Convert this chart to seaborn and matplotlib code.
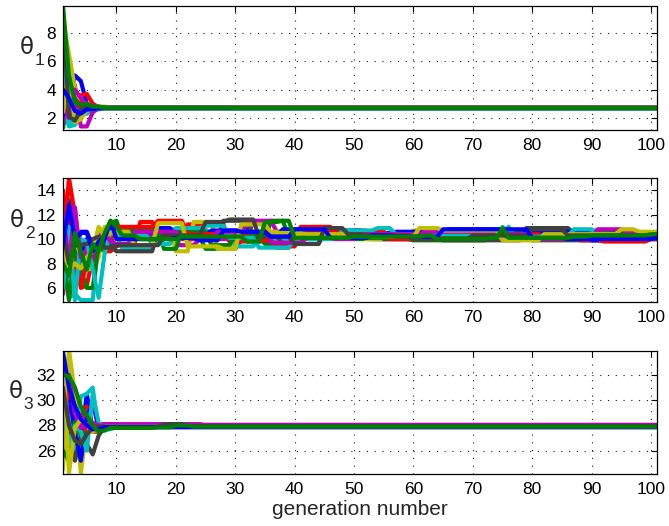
import numpy as np
import pandas as pd
import matplotlib
matplotlib.use("Agg")
import matplotlib.pyplot as plt
import seaborn as sns

# ---------------------------------------------------------------------------
# Parameter estimates per generation for 16 independent runs.
# Each run is stored as change points (generation, value); the value is held
# until the next change point.
# ---------------------------------------------------------------------------
generations = np.arange(1, 102)

theta1_runs = [
    [(1, 3.5), (2, 2.6), (3, 5.0), (4, 4.6), (5, 3.0), (6, 2.8), (8, 2.72)],
    [(1, 1.3), (2, 3.6), (3, 3.0), (4, 2.8), (7, 2.7)],
    [(1, 4.4), (2, 6.0), (3, 3.3), (4, 3.6), (5, 3.7), (6, 3.0), (7, 2.75), (9, 2.7)],
    [(1, 2.9), (2, 1.4), (3, 1.5), (4, 2.2), (5, 2.3), (6, 2.6), (8, 2.68)],
    [(1, 1.6), (2, 4.8), (3, 4.3), (4, 1.4), (5, 1.4), (6, 2.4), (7, 2.7)],
    [(1, 8.8), (2, 6.5), (3, 4.1), (4, 3.2), (5, 3.0), (6, 2.8), (9, 2.72)],
    [(1, 6.5), (2, 3.2), (3, 2.2), (4, 2.5), (5, 2.8), (7, 2.7)],
    [(1, 2.2), (2, 3.1), (3, 2.0), (4, 2.4), (5, 2.65), (8, 2.7)],
    [(1, 7.2), (2, 1.9), (3, 3.3), (4, 2.9), (6, 2.75), (8, 2.7)],
    [(1, 5.0), (2, 2.4), (3, 2.9), (4, 3.1), (5, 2.8), (7, 2.7)],
    [(1, 7.8), (2, 1.6), (3, 1.7), (4, 2.0), (5, 2.5), (6, 2.68)],
    [(1, 3.0), (2, 2.0), (3, 4.0), (4, 3.4), (5, 2.9), (7, 2.72)],
    [(1, 2.4), (2, 5.4), (3, 1.7), (4, 1.9), (5, 2.6), (7, 2.7)],
    [(1, 9.6), (2, 2.1), (3, 1.8), (4, 2.6), (5, 2.7)],
    [(1, 4.0), (2, 3.4), (3, 2.5), (4, 2.3), (5, 2.6), (7, 2.7)],
    [(1, 9.9), (2, 5.0), (3, 3.1), (4, 2.9), (5, 3.0), (6, 2.8), (8, 2.72), (30, 2.7)],
]

theta2_runs = [
    [(1, 8.0), (2, 13.2), (3, 9.0), (4, 10.6), (6, 9.4), (7, 9.5), (8, 9.2), (9, 9.4), (10, 11.2),
     (11, 10.6), (16, 10.4), (22, 10.2), (31, 10.8), (33, 10.5), (40, 10.6), (48, 10.3), (52, 10.2),
     (55, 10.5), (58, 10.1), (66, 10.7), (75, 10.3), (77, 10.7), (86, 10.2), (88, 10.1), (95, 10.0)],
    [(1, 11.5), (2, 5.5), (3, 6.5), (4, 8.2), (5, 9.7), (6, 9.4), (7, 10.0), (8, 9.8), (9, 11.3),
     (10, 11.5), (11, 10.0), (18, 10.2), (25, 9.2), (31, 9.9), (36, 11.5), (39, 10.2), (50, 10.0),
     (60, 9.9), (73, 10.0), (80, 9.9), (95, 10.2), (98, 10.0)],
    [(1, 9.0), (2, 15.0), (3, 12.0), (4, 6.0), (5, 6.2), (6, 8.5), (7, 10.5), (8, 9.0), (10, 9.4),
     (11, 9.6), (14, 11.4), (17, 10.4), (22, 11.2), (29, 9.8), (38, 9.4), (41, 11.0), (47, 10.4),
     (60, 10.3), (70, 10.0), (80, 10.2), (88, 9.9), (94, 10.1)],
    [(1, 13.5), (2, 5.2), (3, 5.5), (4, 5.0), (7, 10.0), (8, 9.3), (9, 10.5), (10, 10.4), (11, 9.2),
     (17, 10.8), (26, 10.3), (30, 9.4), (34, 10.0), (41, 10.5), (51, 10.6), (56, 10.2), (60, 10.3),
     (75, 11.0), (76, 10.4), (88, 10.7), (92, 10.3)],
    [(1, 5.5), (2, 12.5), (3, 12.6), (4, 7.0), (5, 9.5), (6, 8.0), (7, 10.7), (8, 9.9), (9, 10.0),
     (10, 10.8), (14, 10.2), (20, 9.5), (24, 10.0), (33, 11.5), (37, 10.6), (45, 10.3), (50, 10.7),
     (53, 10.0), (60, 10.5), (64, 10.2), (75, 10.0), (89, 10.6), (96, 10.4), (101, 10.6)],
    [(1, 6.5), (2, 10.0), (3, 9.5), (4, 7.5), (6, 7.6), (7, 8.5), (8, 11.0), (9, 10.2), (10, 10.1),
     (11, 10.8), (20, 9.0), (23, 11.4), (27, 9.2), (30, 10.6), (40, 10.2), (47, 10.4), (52, 10.0),
     (60, 10.7), (64, 10.5), (80, 10.2), (85, 10.4), (95, 10.7), (98, 10.2)],
    [(1, 10.0), (2, 9.0), (3, 9.6), (5, 9.7), (8, 9.5), (10, 9.0), (17, 10.6), (25, 10.0),
     (28, 11.5), (33, 10.2), (38, 9.6), (45, 10.4), (49, 10.5), (55, 10.0), (65, 9.9), (79, 10.9),
     (87, 10.5)],
    [(1, 7.0), (2, 12.0), (3, 6.0), (4, 9.0), (5, 10.0), (7, 9.8), (8, 9.5), (9, 10.8), (10, 10.5),
     (12, 10.9), (20, 10.4), (26, 10.7), (32, 10.3), (38, 10.8), (44, 10.7), (52, 10.3), (57, 10.6),
     (66, 10.8), (77, 10.6), (90, 9.9), (96, 10.3)],
    [(1, 8.5), (2, 5.0), (3, 9.0), (4, 7.5), (5, 6.0), (7, 9.5), (8, 9.0), (9, 10.0), (10, 10.7),
     (18, 9.2), (21, 10.6), (26, 9.5), (30, 10.3), (35, 9.6), (42, 10.5), (50, 10.1), (58, 10.3),
     (66, 10.2), (74, 10.6), (79, 10.0), (91, 10.5), (94, 10.3), (101, 10.4)],
    [(1, 14.0), (2, 10.5), (3, 7.0), (4, 6.2), (5, 8.0), (6, 10.0), (7, 9.2), (8, 10.5), (9, 10.0),
     (10, 11.0), (17, 11.5), (22, 10.4), (28, 10.2), (33, 9.9), (37, 9.3), (40, 10.6), (56, 10.0),
     (65, 10.4), (82, 10.0), (92, 9.8), (100, 10.0)],
    [(1, 6.0), (2, 11.0), (3, 5.0), (4, 10.0), (5, 9.8), (6, 7.5), (7, 5.2), (8, 8.8), (9, 10.6),
     (10, 10.3), (16, 9.6), (20, 10.9), (25, 11.1), (29, 10.1), (34, 9.3), (40, 10.0), (48, 10.7),
     (54, 10.9), (57, 10.4), (73, 10.2), (76, 11.0), (77, 10.2), (87, 10.8), (91, 10.1)],
    [(1, 12.0), (2, 8.0), (3, 12.5), (4, 8.5), (5, 8.2), (6, 9.0), (7, 10.2), (8, 10.5), (9, 9.8),
     (10, 9.6), (13, 10.6), (21, 10.0), (27, 10.6), (32, 11.3), (36, 9.7), (42, 10.1), (47, 10.0),
     (51, 10.4), (62, 10.6), (73, 10.4), (80, 10.0), (91, 10.8), (96, 10.5)],
    [(1, 9.5), (2, 7.5), (3, 8.0), (4, 7.6), (5, 8.5), (6, 9.0), (7, 11.0), (8, 10.2), (9, 10.5),
     (10, 10.6), (13, 9.5), (17, 11.3), (22, 9.4), (28, 9.2), (31, 11.2), (36, 10.5), (42, 10.4),
     (50, 10.2), (61, 10.9), (65, 10.7), (75, 9.9), (82, 10.4), (95, 10.8), (98, 10.6)],
    [(1, 10.5), (2, 8.0), (3, 9.5), (5, 9.6), (6, 10.0), (7, 10.2), (8, 9.3), (10, 9.5), (18, 10.3),
     (25, 11.4), (29, 11.6), (34, 10.2), (40, 9.6), (45, 10.9), (49, 10.4), (52, 10.3), (60, 10.0),
     (70, 10.3), (80, 10.8), (86, 10.3), (101, 10.4)],
    [(1, 9.5), (2, 12.8), (3, 10.0), (4, 10.5), (6, 9.0), (7, 9.8), (8, 10.0), (9, 11.5), (10, 10.0),
     (20, 10.1), (24, 9.9), (28, 10.7), (31, 10.6), (36, 10.2), (40, 10.8), (46, 10.1), (53, 10.3),
     (57, 10.2), (65, 10.8), (80, 10.1), (86, 10.0), (101, 10.1)],
    [(1, 8.0), (2, 7.0), (3, 10.5), (4, 9.0), (5, 7.5), (6, 9.6), (7, 9.0), (8, 10.5), (9, 11.5),
     (10, 11.0), (11, 10.3), (14, 10.0), (21, 10.2), (32, 9.8), (35, 11.4), (38, 11.5), (40, 10.1),
     (50, 10.2), (62, 10.3), (64, 10.0), (73, 10.1), (75, 10.9), (76, 10.1), (87, 10.2), (90, 10.3),
     (100, 10.4)],
]

theta3_runs = [
    [(1, 25.5), (2, 33.5), (3, 25.8), (4, 26.5), (5, 30.5), (6, 27.6), (7, 27.9), (9, 28.1), (11, 27.9)],
    [(1, 32.0), (2, 31.8), (3, 29.5), (4, 29.0), (5, 28.7), (6, 27.6), (7, 27.7), (9, 27.9), (18, 28.0), (22, 27.95)],
    [(1, 32.5), (2, 31.0), (4, 29.0), (5, 29.5), (6, 27.5), (8, 27.8), (10, 27.9)],
    [(1, 30.0), (2, 28.5), (3, 26.0), (4, 30.3), (5, 30.5), (6, 31.0), (7, 27.4), (8, 27.7), (10, 27.9)],
    [(1, 27.0), (2, 29.5), (3, 28.5), (4, 28.0), (5, 29.2), (6, 28.0), (7, 28.1), (10, 28.05)],
    [(1, 24.5), (2, 34.0), (3, 30.5), (4, 24.2), (5, 28.0), (6, 27.5), (7, 28.0), (9, 27.9)],
    [(1, 31.5), (2, 27.0), (3, 25.2), (4, 27.2), (5, 26.5), (6, 25.7), (7, 27.2), (8, 27.9)],
    [(1, 33.5), (2, 30.5), (3, 27.5), (4, 25.2), (5, 28.5), (6, 29.8), (7, 27.8), (9, 28.0), (15, 27.9)],
    [(1, 26.0), (2, 25.2), (3, 28.3), (4, 27.2), (5, 27.8), (7, 27.6), (8, 27.9)],
    [(1, 28.5), (2, 31.0), (3, 29.5), (4, 28.5), (5, 27.5), (6, 27.8), (8, 28.0), (20, 27.9)],
    [(1, 29.0), (2, 26.5), (3, 28.0), (4, 27.5), (5, 26.0), (6, 30.5), (7, 28.2), (8, 27.6), (9, 27.8), (12, 27.95)],
    [(1, 30.5), (2, 32.0), (3, 29.0), (4, 27.8), (5, 28.0), (6, 28.2), (7, 28.0), (9, 28.1), (25, 28.0)],
    [(1, 33.9), (2, 24.2), (3, 27.8), (4, 28.5), (5, 28.0), (6, 27.6), (8, 27.9)],
    [(1, 31.0), (2, 28.0), (3, 26.8), (4, 26.5), (5, 27.3), (6, 27.8), (7, 27.9), (18, 28.1), (22, 27.95)],
    [(1, 33.8), (2, 31.0), (3, 29.5), (4, 28.5), (5, 28.0), (6, 27.7), (8, 27.85)],
    [(1, 32.0), (2, 31.9), (3, 31.0), (4, 29.5), (5, 28.8), (6, 28.0), (7, 27.5), (8, 27.6), (9, 27.8),
     (17, 27.85), (20, 28.0), (23, 27.9)],
]

panel_runs = [theta1_runs, theta2_runs, theta3_runs]
subscripts = ["1", "2", "3"]
y_limits = [(1.15, 9.9), (4.85, 15.0), (24.15, 33.9)]
y_ticks = [[2, 4, 6, 8], [6, 8, 10, 12, 14], [26, 28, 30, 32]]
x_ticks = [10, 20, 30, 40, 50, 60, 70, 80, 90, 100]
x_label = "generation number"

# MATLAB default line colour order
line_colors = ["#0000ff", "#008000", "#ff0000", "#00bfbf", "#bf00bf", "#bfbf00", "#404040"]


def expand(runs):
    """Turn (generation, value) change points into one value per generation."""
    values = np.empty(len(generations))
    stops = [g for g, _ in runs[1:]] + [generations[-1] + 1]
    for (start, value), stop in zip(runs, stops):
        values[start - 1:stop - 1] = value
    return values


def to_frame(runs):
    parts = []
    for i, r in enumerate(runs):
        parts.append(pd.DataFrame({"generation": generations,
                                   "value": expand(r),
                                   "run": i}))
    return pd.concat(parts, ignore_index=True)


sns.set_style("white")
plt.rcParams["font.family"] = ["Liberation Sans", "DejaVu Sans"]

fig = plt.figure(figsize=(6.69, 5.26), dpi=100)

# axes rectangles (left, bottom, width, height) in figure fractions
rects = [
    (0.0942, 0.7529, 0.8879, 0.2357),
    (0.0942, 0.4259, 0.8879, 0.2357),
    (0.0942, 0.0989, 0.8879, 0.2338),
]
# label placement (theta centre, subscript centre) in axes fractions
label_pos = [
    ((-0.061, 0.669), (-0.040, 0.560)),
    ((-0.078, 0.661), (-0.056, 0.555)),
    ((-0.080, 0.671), (-0.058, 0.564)),
]

for k in range(3):
    ax = fig.add_axes(rects[k])
    df = to_frame(panel_runs[k])
    n = len(panel_runs[k])
    palette = {i: line_colors[i % len(line_colors)] for i in range(n)}
    sns.lineplot(data=df, x="generation", y="value", hue="run", palette=palette,
                 estimator=None, sort=False, legend=False, linewidth=3.0, ax=ax,
                 zorder=3)

    ax.set_xlim(1, 101)
    ax.set_ylim(*y_limits[k])
    ax.set_xticks(x_ticks)
    ax.set_yticks(y_ticks[k])
    ax.set_xlabel("")
    ax.set_ylabel("")

    ax.grid(True, which="major", color="#1a1a1a", linestyle=(0, (1, 6)), linewidth=0.8, zorder=0)
    ax.set_axisbelow(True)
    for sp in ax.spines.values():
        sp.set_visible(True)
        sp.set_color("black")
        sp.set_linewidth(0.9)
        sp.set_zorder(5)
    ax.tick_params(direction="in", top=True, right=True, length=4, width=0.8,
                   labelsize=12.5, colors="black", pad=6)
    ax.tick_params(axis="y", pad=5)

    (tx, ty), (sx, sy) = label_pos[k]
    ax.text(tx, ty, "θ", transform=ax.transAxes, ha="center", va="center",
            fontsize=16.5, family=["DejaVu Sans"])
    ax.text(sx, sy, subscripts[k], transform=ax.transAxes, ha="center", va="center",
            fontsize=12.5)

    if k == 2:
        ax.set_xlabel(x_label, fontsize=15, labelpad=2)

fig.savefig("out.png", dpi=100)
